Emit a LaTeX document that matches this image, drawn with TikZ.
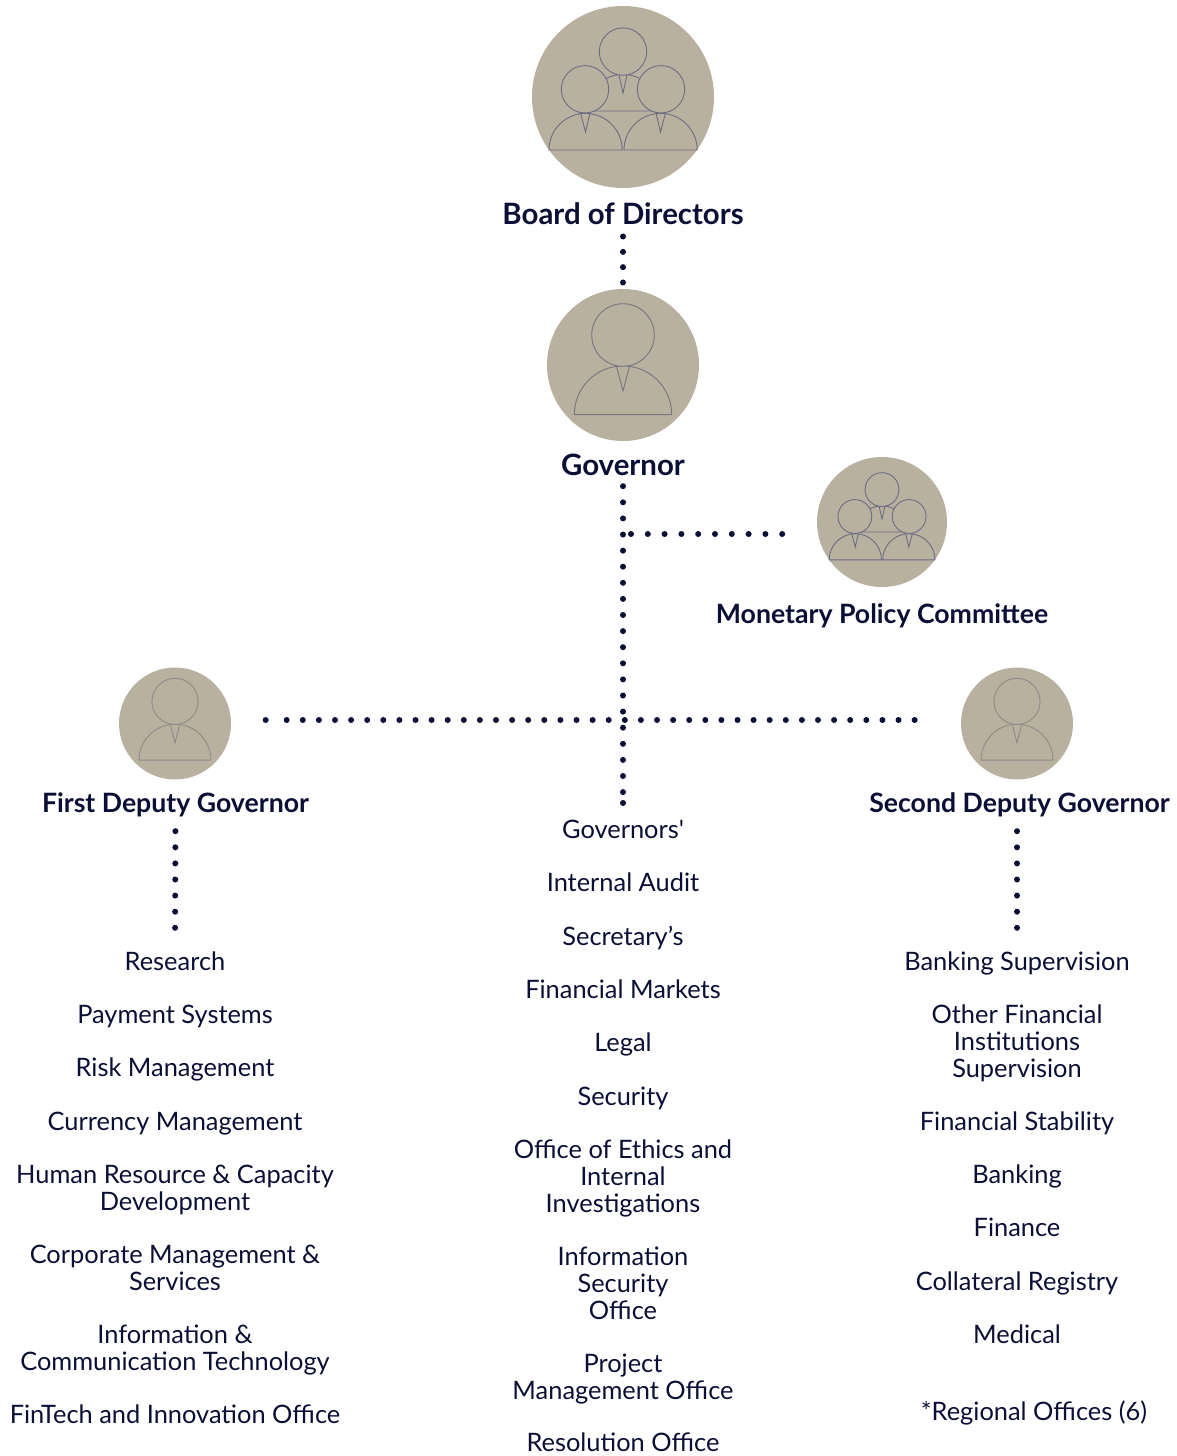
\documentclass[tikz,border=0pt]{standalone}
\usepackage{fontspec}
\setmainfont{Lato}
\definecolor{ink}{HTML}{0B0F35}
\definecolor{disc}{HTML}{B8B1A0}
\definecolor{icon}{HTML}{6E6C82}
\definecolor{icongrey}{HTML}{77757F}
\definecolor{iconpale}{HTML}{8E8A88}
\newcommand{\oneman}[4]{%
 \begin{scope}[shift={(#1,#2)},scale=#3,iconline/.append style={draw=#4}]
  \draw[iconline] (-48.7,49.6) arc[start angle=180,end angle=360,radius=48.7] -- cycle;
  \draw[iconline] (-6.5,1) -- (0,26) -- (6.5,1);
  \draw[iconline,fill=disc] (0,-30) circle[radius=31.3];
 \end{scope}}
\newcommand{\threemen}[3]{%
 \begin{scope}[shift={(#1,#2)},scale=#3]
  % back person
  \draw[iconline] (-36.6,14) arc[start angle=180,end angle=360,radius=36.6] -- cycle;
  \draw[iconline] (-4,-22) -- (0,-4) -- (4,-22);
  \draw[iconline,fill=disc] (0,-45.4) circle[radius=23.7];
  % left person
  \draw[iconline,fill=disc] (-74,53) arc[start angle=180,end angle=360,radius=36.6] -- cycle;
  \draw[iconline] (-42.5,16) -- (-37.5,35) -- (-33,16);
  \draw[iconline,fill=disc] (-38,-7.7) circle[radius=23.7];
  % right person
  \draw[iconline,fill=disc] (1,53) arc[start angle=180,end angle=360,radius=36.6] -- cycle;
  \draw[iconline] (33,16) -- (37.5,35) -- (42.5,16);
  \draw[iconline,fill=disc] (38,-7.7) circle[radius=23.7];
 \end{scope}}
\tikzset{
 iconline/.style={draw=icon,line width=0.9pt},
 portrait/.style={circle,fill=disc,inner sep=0pt,minimum size=#1},
 head/.style={anchor=base,text=ink,inner sep=0pt,text height=20pt,text depth=6pt,font=\fontsize{26.65}{30}\selectfont\bfseries},
 bighead/.style={head,font=\fontsize{29.4}{30}\selectfont\bfseries},
 item/.style={anchor=north,text=ink,inner sep=0pt,align=center,font=\fontsize{25.4}{26.9}\selectfont},
 dotline/.style={draw=ink,line width=6pt,line cap=round,dash pattern=on 0pt off 16.1pt},
 dotwide/.style={draw=ink,line width=6pt,line cap=round,dash pattern=on 0pt off 16.8pt},
 dottop/.style={draw=ink,line width=6pt,line cap=round,dash pattern=on 0pt off 15.33pt},
 enddot/.style={fill=ink},
}
\newcommand{\st}{\rule{0pt}{20pt}}
\begin{document}
\begin{tikzpicture}[x=1pt,y=-1pt]
\useasboundingbox (0,0) rectangle (1176,1456);
% portraits
\node[portrait=182pt] (board) at (623,97) {};
\node[portrait=152pt] (gov) at (623,365) {};
\node[portrait=130pt] (mpc) at (882,522) {};
\node[portrait=112pt] (first) at (175,723.5) {};
\node[portrait=112pt] (second) at (1017,723.5) {};
\threemen{623}{97}{1}
\oneman{623}{365}{1}{icongrey}
\threemen{882}{522}{0.714}
\oneman{175}{723.5}{0.737}{iconpale}
\oneman{1017}{723.5}{0.737}{iconpale}
% titles
\node[bighead] (boardt) at (623,224) {Board of Directors};
\node[bighead] (govt) at (623,475) {Governor};
\node[head] (mpct) at (882,623) {Monetary Policy Committee};
\node[head] (firstt) at (175.5,812) {First Deputy Governor};
\node[head] (secondt) at (1019.5,812) {Second Deputy Governor};
% left list
\node[item] (l1) at (175,950) {\st Research};
\node[item] (l2) at (175,1003) {\st Payment Systems};
\node[item] (l3) at (175,1056) {\st Risk Management};
\node[item] (l4) at (175,1110) {\st Currency Management};
\node[item] (l5) at (175,1163) {\st Human Resource \& Capacity\\Development};
\node[item] (l6) at (175,1243) {\st Corporate Management \&\\Services};
\node[item] (l7) at (175,1323) {\st Information \&\\Communication Technology};
\node[item] (l8) at (175,1403) {\st FinTech and Innovation Office};
% centre list
\node[item] (c1) at (623,818) {\st Governors\textquotesingle};
\node[item] (c2) at (623,871) {\st Internal Audit};
\node[item] (c3) at (623,925) {\st Secretary’s};
\node[item] (c4) at (623,978) {\st Financial Markets};
\node[item] (c5) at (623,1031) {\st Legal};
\node[item] (c6) at (623,1085) {\st Security};
\node[item] (c7) at (623,1138) {\st Office of Ethics and\\Internal\\Investigations};
\node[item] (c8) at (623,1245) {\st Information\\Security\\Office};
\node[item] (c9) at (623,1352) {\st Project\\Management Office};
\node[item] (c10) at (623,1431) {\st Resolution Office};
% right list
\node[item] (r1) at (1017,950) {\st Banking Supervision};
\node[item] (r2) at (1017,1003) {\st Other Financial\\Institutions\\Supervision};
\node[item] (r3) at (1017,1110) {\st Financial Stability};
\node[item] (r4) at (1017,1163) {\st Banking};
\node[item] (r5) at (1017,1216) {\st Finance};
\node[item] (r6) at (1017,1270) {\st Collateral Registry};
\node[item] (r7) at (1017,1323) {\st Medical};
\node[item] (r8) at (1034,1400) {\st *Regional Offices (6)};
% connectors
\coordinate (jm) at (623,534);
\coordinate (jh) at (623,720);
\coordinate (hstart) at (265.7,720);
\coordinate (hdots) at (286.7,720);
\coordinate (hend) at (917,720);
\coordinate (vend) at (623,803);
\draw[dottop,shorten <=6.3pt,shorten >=5pt] (boardt.south) -- (gov.north);
\draw[dotline,shorten <=5pt,shorten >=20pt] (govt.south) -- (c1.north);
\fill[enddot] (vend) circle[radius=3pt];
\draw[dotwide,shorten <=8pt,shorten >=33pt] (jm) -- (jm -| mpc.west);
\fill[enddot] (hstart) circle[radius=3pt];
\draw[dotline] (hdots) -- (hend);
\draw[dotline,shorten <=13pt,shorten >=21pt] (firstt.south) -- (l1.north);
\draw[dotline,shorten <=13pt,shorten >=21pt] (r1.north |- secondt.south) -- (r1.north);
\end{tikzpicture}
\end{document}
